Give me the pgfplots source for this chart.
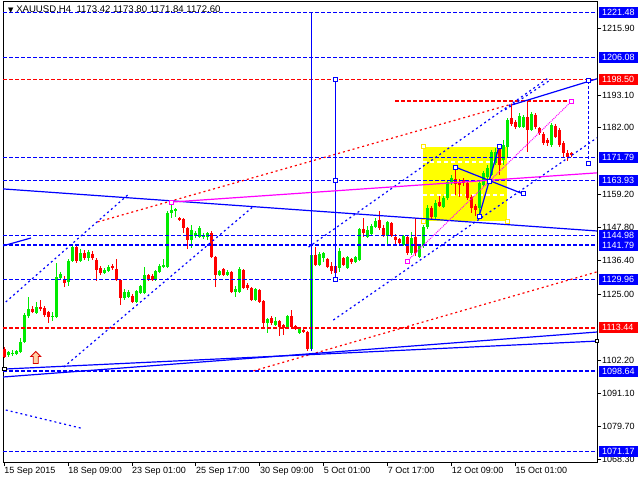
\documentclass[border=0pt]{standalone}
\usepackage{fontspec}
\setmainfont{Liberation Sans}
\newfontfamily\dejavu{DejaVu Sans}
\usepackage{pgfplots}
\pgfplotsset{compat=1.18}
\usepackage{pgfplotstable}

\definecolor{bull}{RGB}{0,235,0}
\definecolor{bear}{RGB}{255,0,0}
\definecolor{mtblue}{RGB}{0,0,255}
\definecolor{mtmag}{RGB}{255,0,255}
\definecolor{mtyel}{RGB}{255,255,0}

% outlined up arrow, like the MT4 arrow object
\pgfdeclareplotmark{uparr}{%
  \pgfpathmoveto{\pgfpoint{0pt}{6pt}}
  \pgfpathlineto{\pgfpoint{5pt}{1pt}}
  \pgfpathlineto{\pgfpoint{2.5pt}{1pt}}
  \pgfpathlineto{\pgfpoint{2.5pt}{-6pt}}
  \pgfpathlineto{\pgfpoint{-2.5pt}{-6pt}}
  \pgfpathlineto{\pgfpoint{-2.5pt}{1pt}}
  \pgfpathlineto{\pgfpoint{-5pt}{1pt}}
  \pgfpathclose
  \pgfusepathqfillstroke}

% bar index, open, high, low, close
\pgfplotstableread{
i o h l c
1 1104.1 1105.5 1103.5 1105.2
2 1104.5 1105.9 1103.8 1104.8
3 1104.5 1105.9 1104.1 1105.5
4 1105.2 1110.0 1104.8 1108.6
5 1108.6 1118.5 1108.3 1117.8
6 1117.5 1124.0 1116.8 1119.9
8 1118.5 1122.3 1118.2 1120.6
12 1117.1 1118.9 1115.8 1117.5
13 1117.1 1135.7 1116.8 1130.9
14 1130.5 1132.6 1130.2 1131.9
16 1129.1 1137.0 1127.8 1136.3
17 1136.3 1141.8 1136.0 1141.1
19 1136.3 1140.4 1136.0 1139.1
21 1137.4 1140.1 1136.3 1139.4
25 1132.2 1133.9 1131.9 1133.3
26 1132.9 1135.0 1132.6 1134.3
30 1123.7 1126.8 1123.0 1125.7
31 1124.0 1126.4 1123.7 1125.7
33 1122.3 1126.4 1122.0 1126.1
34 1125.4 1128.1 1125.0 1127.8
35 1125.4 1134.3 1125.0 1131.5
38 1129.8 1133.3 1129.5 1132.9
39 1132.6 1135.3 1132.2 1134.6
40 1134.3 1137.0 1133.9 1135.0
41 1134.3 1153.5 1133.9 1152.8
42 1152.8 1156.2 1151.1 1153.8
43 1153.5 1154.5 1151.4 1154.1
47 1143.5 1148.7 1140.8 1147.0
48 1145.0 1146.6 1144.2 1145.9
49 1144.6 1148.3 1144.2 1147.6
50 1144.6 1145.9 1143.9 1145.2
51 1144.6 1146.3 1143.5 1145.9
54 1131.5 1133.3 1131.2 1132.9
56 1131.5 1133.3 1131.2 1132.6
58 1125.7 1127.8 1124.0 1126.8
59 1125.7 1134.3 1125.4 1133.6
63 1123.0 1127.1 1122.6 1126.8
66 1115.1 1116.8 1111.7 1116.5
68 1114.4 1117.1 1114.1 1115.8
71 1113.7 1117.8 1113.4 1117.5
74 1111.7 1113.4 1111.3 1113.0
77 1106.2 1139.4 1105.5 1138.4
79 1135.0 1139.4 1134.6 1138.7
80 1137.4 1139.4 1136.0 1139.1
84 1133.9 1140.8 1132.6 1139.8
86 1133.9 1138.0 1133.6 1137.7
88 1136.0 1138.0 1135.7 1137.7
89 1136.7 1147.6 1136.3 1147.3
91 1144.6 1148.3 1144.2 1147.0
92 1145.6 1149.0 1145.2 1148.3
93 1148.0 1151.1 1147.6 1150.0
96 1145.0 1150.0 1141.5 1149.7
100 1141.8 1145.2 1141.5 1145.0
102 1139.1 1146.3 1138.4 1144.2
104 1137.7 1142.2 1137.4 1141.5
105 1141.5 1148.7 1140.8 1148.0
106 1148.0 1155.5 1147.3 1154.5
108 1151.4 1157.2 1150.7 1156.2
110 1154.8 1158.6 1154.5 1157.9
111 1157.9 1164.1 1157.2 1163.4
112 1163.4 1165.8 1162.4 1164.8
119 1154.5 1164.1 1152.4 1163.0
120 1162.4 1167.2 1161.7 1166.5
121 1165.1 1169.2 1164.4 1168.2
122 1165.8 1174.4 1165.4 1173.7
123 1169.9 1175.0 1169.2 1173.7
125 1170.9 1177.8 1169.2 1176.1
126 1175.4 1185.3 1171.9 1184.6
129 1182.2 1187.0 1181.9 1186.0
130 1182.2 1186.3 1181.9 1185.7
132 1181.2 1187.4 1180.9 1186.7
137 1176.1 1183.6 1175.4 1182.9
}\upbars

\pgfplotstableread{
i o h l c
0 1106.2 1106.9 1103.1 1103.5
7 1119.9 1120.9 1118.5 1118.9
9 1120.6 1123.0 1119.2 1119.9
10 1120.2 1120.9 1117.1 1117.8
11 1118.9 1119.2 1115.1 1117.1
15 1130.2 1131.2 1127.4 1128.8
18 1141.1 1141.8 1135.7 1136.3
20 1139.1 1140.1 1136.7 1137.4
22 1138.7 1139.8 1136.7 1137.4
23 1136.7 1137.4 1129.5 1133.3
24 1133.9 1134.6 1131.5 1132.2
27 1134.6 1135.3 1133.3 1133.9
28 1133.6 1137.0 1129.5 1129.8
29 1129.8 1130.2 1121.3 1123.7
32 1124.3 1125.0 1122.0 1122.3
36 1131.5 1131.9 1129.5 1129.8
37 1131.2 1131.9 1129.5 1129.8
44 1151.1 1151.4 1150.0 1150.4
45 1150.7 1151.1 1145.9 1147.6
46 1147.6 1147.9 1140.4 1143.5
52 1145.9 1146.6 1137.4 1137.7
53 1137.7 1138.0 1127.4 1131.5
55 1133.6 1133.9 1131.2 1131.5
57 1132.6 1132.9 1125.4 1125.7
60 1133.3 1133.6 1126.8 1127.1
61 1128.1 1128.8 1126.4 1127.1
62 1127.1 1127.4 1122.6 1123.0
64 1126.4 1126.8 1122.0 1122.3
65 1122.6 1123.0 1113.0 1115.1
67 1116.8 1117.5 1114.4 1115.1
69 1115.8 1116.1 1110.7 1113.7
70 1114.4 1114.8 1111.0 1113.4
72 1117.5 1119.6 1113.4 1113.7
73 1114.1 1114.4 1112.7 1113.0
75 1112.7 1113.0 1111.7 1112.0
76 1112.0 1112.4 1105.5 1106.2
78 1138.4 1141.1 1134.6 1135.0
81 1137.0 1137.4 1133.9 1134.3
82 1134.6 1136.0 1131.9 1132.9
83 1134.6 1135.3 1130.5 1132.2
85 1137.4 1137.7 1134.6 1135.0
87 1137.0 1137.4 1135.3 1136.0
90 1147.3 1151.1 1144.6 1145.9
94 1150.4 1153.5 1147.0 1147.6
95 1147.6 1148.7 1144.6 1145.0
97 1149.3 1149.7 1144.6 1145.0
98 1144.6 1145.6 1141.8 1143.5
99 1143.9 1144.2 1141.8 1142.5
101 1144.6 1145.0 1138.4 1139.1
103 1144.6 1151.1 1138.0 1139.1
107 1154.5 1155.2 1150.7 1151.4
109 1156.5 1158.6 1154.8 1155.2
113 1164.4 1168.2 1158.9 1162.7
114 1163.4 1164.4 1158.3 1162.4
115 1164.1 1164.8 1162.0 1163.0
116 1163.0 1163.7 1157.2 1157.9
117 1158.3 1158.9 1152.8 1154.5
118 1155.2 1155.9 1151.8 1153.8
124 1175.4 1176.1 1165.8 1169.2
127 1185.3 1190.1 1182.6 1183.3
128 1183.9 1184.6 1181.5 1182.2
131 1185.7 1190.8 1173.7 1181.2
133 1186.3 1187.0 1181.5 1182.2
134 1181.9 1182.2 1179.5 1180.2
135 1179.8 1180.5 1176.1 1176.8
136 1177.8 1178.5 1175.7 1176.8
138 1182.6 1183.3 1178.5 1178.8
139 1181.2 1181.9 1175.4 1176.1
140 1176.8 1177.4 1171.6 1173.3
141 1173.3 1174.4 1170.6 1172.0
142 1173.42 1173.80 1171.84 1172.60
}\downbars

\begin{document}
\begin{tikzpicture}
\begin{axis}[
  at={(3pt,18pt)}, anchor=south west,
  scale only axis, width=594pt, height=460pt,
  xmin=-0.3, xmax=148.4, ymin=1067.5, ymax=1225.0,
  clip mode=individual,
  every axis plot/.append style={line width=1.2pt},
  axis line style={black, line width=1pt},
  tick align=outside, major tick length=4pt,
  tick style={black, line width=1pt},
  xtick pos=bottom, ytick pos=right, yticklabel pos=right,
  xtick={0,16,32,48,64,80,96,112,128},
  xticklabels={15 Sep 2015, 18 Sep 09:00, 23 Sep 01:00, 25 Sep 17:00, 30 Sep 09:00, 5 Oct 01:00, 7 Oct 17:00, 12 Oct 09:00, 15 Oct 01:00},
  ytick={1068.3,1079.7,1091.1,1102.2,1125.0,1136.4,1147.8,1159.2,1182.0,1193.1,1215.9},
  scaled y ticks=false,
  ticklabel style={font=\fontsize{9}{10}\selectfont},
  xticklabel style={anchor=north west, inner xsep=0pt, inner ysep=1pt},
  yticklabel style={anchor=west, inner xsep=1pt,
    /pgf/number format/fixed, /pgf/number format/fixed zerofill,
    /pgf/number format/precision=2, /pgf/number format/1000 sep={},
    /pgf/number format/assume math mode=true},
]
% yellow box with its inner levels
\addplot[fill=mtyel, draw=none] coordinates {(104.9,1150.0) (125.9,1150.0) (125.9,1175.4) (104.9,1175.4)} -- cycle;
\addplot[white, dash pattern=on 4pt off 3pt] coordinates {(104.9,1170.2) (125.9,1170.2)};
\addplot[white, dash pattern=on 4pt off 3pt] coordinates {(104.9,1158.9) (125.9,1158.9)};

% candles: wicks then bodies
\addplot[bull, line width=1pt, quiver={u=0, v=\thisrow{h}-\thisrow{l}}] table[x=i, y=l] {\upbars};
\addplot[bull, line width=3pt, quiver={u=0, v=\thisrow{c}-\thisrow{o}}] table[x=i, y=o] {\upbars};
\addplot[bear, line width=1pt, quiver={u=0, v=\thisrow{h}-\thisrow{l}}] table[x=i, y=l] {\downbars};
\addplot[bear, line width=3pt, quiver={u=0, v=\thisrow{c}-\thisrow{o}}] table[x=i, y=o] {\downbars};

% horizontal levels
\addplot[mtblue, line width=1.5pt, dash pattern=on 4pt off 2pt, unbounded coords=jump] coordinates {
 (-0.3,1221.48) (148.4,1221.48) (nan,nan)
 (-0.3,1206.08) (148.4,1206.08) (nan,nan)
 (-0.3,1171.79) (148.4,1171.79) (nan,nan)
 (-0.3,1163.93) (148.4,1163.93) (nan,nan)
 (-0.3,1144.98) (148.4,1144.98) (nan,nan)
 (-0.3,1141.79) (148.4,1141.79) (nan,nan)
 (-0.3,1129.96) (148.4,1129.96) (nan,nan)
 (-0.3,1098.64) (148.4,1098.64) (nan,nan)
 (-0.3,1071.17) (148.4,1071.17)};
\addplot[bear, line width=1.5pt, dash pattern=on 4pt off 2pt, unbounded coords=jump] coordinates {
 (-0.3,1198.50) (148.4,1198.50) (nan,nan)
 (-0.3,1113.44) (148.4,1113.44) (nan,nan)
 (97.9,1191.1) (141.7,1191.1)};

% red dotted trend lines
\addplot[bear, dash pattern=on 2pt off 3pt] coordinates {(23.4,1149.7) (127.2,1190.1)};
\addplot[bear, dash pattern=on 2pt off 3pt] coordinates {(62.4,1098.7) (148.4,1132.6)};

% blue dashed channel lines
\addplot[mtblue, dash pattern=on 2pt off 3pt] coordinates {(0.4,1122.3) (30.9,1158.9)};
\addplot[mtblue, dash pattern=on 2pt off 3pt] coordinates {(14.9,1100.0) (62.2,1154.8)};
\addplot[mtblue, dash pattern=on 2pt off 3pt] coordinates {(76.2,1141.1) (136.2,1199.0)};
\addplot[mtblue, dash pattern=on 2pt off 3pt] coordinates {(82.4,1116.1) (148.4,1178.5)};
\addplot[mtblue, dash pattern=on 2pt off 3pt] coordinates {(125.4,1188.1) (136.7,1198.3)};
\addplot[mtblue, dash pattern=on 2pt off 3pt] coordinates {(0.4,1085.3) (19.2,1079.1)};
\addplot[mtblue, dash pattern=on 3pt off 2pt] coordinates {(146.2,1198.0) (146.2,1169.6)};

% blue solid lines
\addplot[mtblue] coordinates {(-0.3,1161.0) (148.4,1146.6)};
\addplot[mtblue] coordinates {(-0.3,1141.5) (6.7,1144.2)};
\addplot[mtblue] coordinates {(-0.3,1099.3) (148.4,1108.9)};
\addplot[mtblue] coordinates {(-0.3,1096.6) (148.4,1112.0)};
\addplot[mtblue] coordinates {(127.2,1189.8) (148.4,1198.7)};
\addplot[mtblue] coordinates {(76.9,1221.48) (76.9,1105.5)};
\addplot[mtblue] coordinates {(82.9,1198.5) (82.9,1129.96)};
\addplot[mtblue] coordinates {(112.9,1168.5) (129.9,1159.3)};
\addplot[mtblue] coordinates {(118.9,1151.7) (123.9,1175.7)};

% magenta lines
\addplot[mtmag] coordinates {(41.9,1156.5) (148.4,1166.5)};
\addplot[mtmag, line width=1pt, dash pattern=on 1pt off 1pt] coordinates {(100.9,1136.3) (142.1,1191.1)};

% anchor squares
\addplot[only marks, mark=square*, mark size=2pt, mark options={draw=mtblue, fill=white, line width=0.9pt}] coordinates {
 (82.9,1198.5) (82.9,1163.93) (82.9,1129.96) (146.2,1198.0) (146.2,1169.6)
 (112.9,1168.5) (121.4,1163.7) (118.9,1151.7) (123.9,1175.7) (129.9,1159.3)};
\addplot[only marks, mark=square*, mark size=2pt, mark options={draw=mtmag, fill=white, line width=0.9pt}] coordinates {
 (41.9,1156.5) (100.9,1136.3) (142.1,1191.1)};
\addplot[only marks, mark=square*, mark size=2pt, mark options={draw=mtyel!80!orange, fill=white, line width=0.9pt}] coordinates {
 (104.9,1175.4) (104.9,1150.0) (125.9,1150.0)};
\addplot[only marks, mark=square*, mark size=1.7pt, mark options={draw=black, fill=white, line width=0.7pt}] coordinates {
 (0,1099.3) (148.4,1108.9)};
\addplot[only marks, mark=uparr, mark options={draw=red!85!black, fill=orange!35, line width=0.8pt}] coordinates {(7.9,1103.3)};

\node[anchor=north west, inner sep=0pt, font=\fontsize{9.6}{11}\selectfont] at (rel axis cs:0,1) [xshift=5pt, yshift=-4pt]
  {{\dejavu\fontsize{7}{7}\selectfont ▼}\ XAUUSD,H4\ \ 1173.42 1173.80 1171.84 1172.60};

\coordinate (b1) at (axis cs:148.4,1221.48);
\coordinate (b2) at (axis cs:148.4,1206.08);
\coordinate (b3) at (axis cs:148.4,1198.50);
\coordinate (b4) at (axis cs:148.4,1171.79);
\coordinate (b5) at (axis cs:148.4,1163.93);
\coordinate (b6) at (axis cs:148.4,1144.98);
\coordinate (b7) at (axis cs:148.4,1141.79);
\coordinate (b8) at (axis cs:148.4,1129.96);
\coordinate (b9) at (axis cs:148.4,1113.44);
\coordinate (b10) at (axis cs:148.4,1098.64);
\coordinate (b11) at (axis cs:148.4,1071.17);
\end{axis}

\foreach \p/\t/\col in {b1/1221.48/mtblue, b2/1206.08/mtblue, b3/1198.50/bear, b4/1171.79/mtblue,
  b5/1163.93/mtblue, b6/1144.98/mtblue, b7/1141.79/mtblue, b8/1129.96/mtblue,
  b9/1113.44/bear, b10/1098.64/mtblue, b11/1071.17/mtblue}
  \node[anchor=west, xshift=2pt, fill=\col, text=white, inner xsep=3pt, inner ysep=0pt,
    minimum height=11pt, text width=33pt, align=left, font=\fontsize{9}{10}\selectfont] at (\p) {\t};

\pgfresetboundingbox
\useasboundingbox (0,0) rectangle (640pt,480pt);
\end{tikzpicture}
\end{document}
